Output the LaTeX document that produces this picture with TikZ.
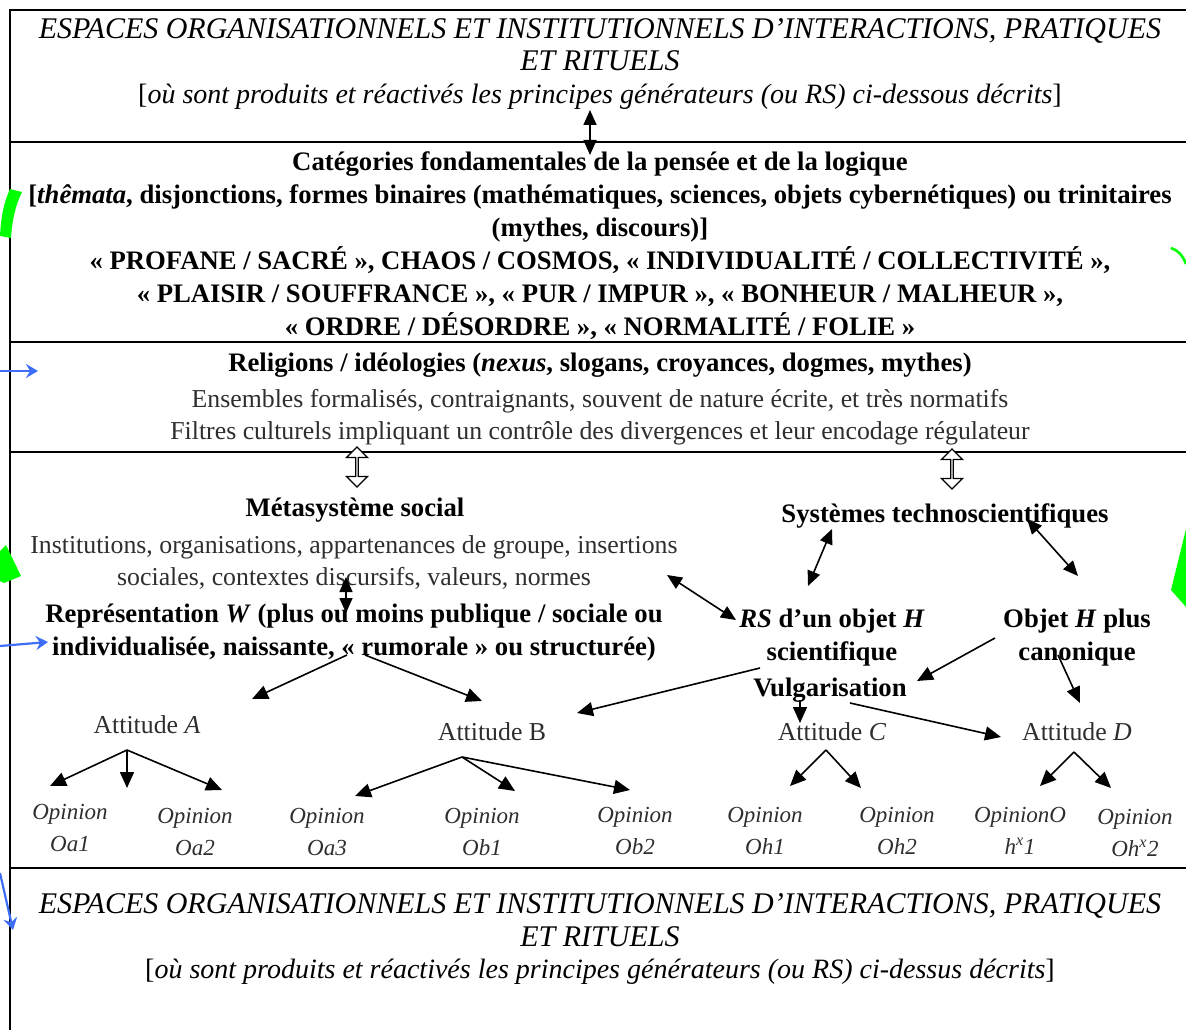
\documentclass[tikz,border=0pt]{standalone}
\usepackage{fontspec}
\setmainfont{Liberation Serif}
\usetikzlibrary{arrows.meta,shapes.arrows}
\definecolor{txtgray}{HTML}{2E2E2E}
\definecolor{blueA}{HTML}{3E6EF5}
\definecolor{greenA}{HTML}{00FF00}
\begin{document}
\begin{tikzpicture}[x=1pt,y=-1pt,
  frame/.style={line width=2.2pt},
  bfb/.style={font=\fontsize{26.7}{33}\selectfont\bfseries, align=center, inner sep=0pt},
  rmb/.style={font=\fontsize{25.8}{32}\selectfont, text=txtgray, align=center, inner sep=0pt},
  hdr/.style={font=\fontsize{28}{32.5}\selectfont, align=center, inner sep=0pt},
  opin/.style={font=\fontsize{23}{32.5}\selectfont\itshape, text=txtgray, align=center, inner sep=0pt},
  arr/.style={-{Triangle[length=16pt,width=14pt]}, line width=1.6pt},
  darr/.style={{Triangle[length=15pt,width=13pt]}-{Triangle[length=15pt,width=13pt]}, line width=1.6pt},
  hollow/.style={draw, double arrow, shape border rotate=90, minimum height=40pt, minimum width=21pt, double arrow head extend=5pt, line width=1.3pt, inner sep=0pt, fill=white},
  bluearr/.style={-{Stealth[length=12pt,width=14pt,inset=4pt]}, line width=2.2pt, draw=blueA}
]
\useasboundingbox (0,0) rectangle (1186,1030);

% frame
\draw[frame] (1186,10) -- (10,10) -- (10,1030);
\foreach \yy in {142,342,452,868} \draw[frame] (10,\yy) -- (1186,\yy);

% headers
\node[hdr] (espTop) at (600,64) {{\fontsize{30}{32.5}\selectfont\itshape ESPACES ORGANISATIONNELS ET INSTITUTIONNELS D’INTERACTIONS, PRATIQUES}\\
  {\fontsize{30}{32.5}\selectfont\itshape ET RITUELS}\\
  {[\textit{où sont produits et réactivés les principes générateurs (ou RS) ci-dessous décrits}]}};

\node[hdr] (espBot) at (600,939) {{\fontsize{30}{32.5}\selectfont\itshape ESPACES ORGANISATIONNELS ET INSTITUTIONNELS D’INTERACTIONS, PRATIQUES}\\
  {\fontsize{30}{32.5}\selectfont\itshape ET RITUELS}\\
  {[\textit{où sont produits et réactivés les principes générateurs (ou RS) ci-dessus décrits}]}};

% categories
\node[bfb] (cat) at (600,246) {Catégories fondamentales de la pensée et de la logique\\
  {[}\textit{thêmata}, disjonctions, formes binaires (mathématiques, sciences, objets cybernétiques) ou trinitaires\\
  (mythes, discours)]\\
  « PROFANE / SACRÉ », CHAOS / COSMOS, « INDIVIDUALITÉ / COLLECTIVITÉ »,\\
  « PLAISIR / SOUFFRANCE », « PUR / IMPUR », « BONHEUR / MALHEUR »,\\
  « ORDRE / DÉSORDRE », « NORMALITÉ / FOLIE »};

% religions
\node[bfb] (rel) at (600,365) {Religions / idéologies (\textit{nexus}, slogans, croyances, dogmes, mythes)};
\node[rmb] (ens) at (600,417) {Ensembles formalisés, contraignants, souvent de nature écrite, et très normatifs\\
  Filtres culturels impliquant un contrôle des divergences et leur encodage régulateur};

% hollow arrows
\node[hollow] (hol1) at (357,467) {};
\node[hollow] (hol2) at (952,469) {};

% metasysteme
\node[bfb] (meta) at (355,510) {Métasystème social};
\node[rmb] (inst) at (354,563) {Institutions, organisations, appartenances de groupe, insertions\\
  sociales, contextes discursifs, valeurs, normes};
\node[bfb] (repr) at (354,633) {Représentation \textit{W} (plus ou moins publique / sociale ou\\
  individualisée, naissante, « rumorale » ou structurée)};

\node[bfb] (sys) at (945,516) {Systèmes technoscientifiques};
\node[bfb] (rs) at (832,638) {\textit{RS} d’un objet \textit{H}\\ scientifique};
\node[bfb] (vulg) at (830,690) {Vulgarisation};
\node[bfb] (obj) at (1077,638) {Objet \textit{H} plus\\ canonique};

% attitudes
\node[rmb] (attA) at (147,725) {Attitude \textit{A}};
\node[rmb] (attB) at (492,732) {Attitude B};
\node[rmb] (attC) at (832,732) {Attitude \textit{C}};
\node[rmb] (attD) at (1077,732) {Attitude \textit{D}};

% opinions
\node[opin] (oa1) at (70,828) {Opinion\\ Oa1};
\node[opin] (oa2) at (195,832) {Opinion\\ Oa2};
\node[opin] (oa3) at (327,832) {Opinion\\ Oa3};
\node[opin] (ob1) at (482,832) {Opinion\\ Ob1};
\node[opin] (ob2) at (635,831) {Opinion\\ Ob2};
\node[opin] (oh1) at (765,831) {Opinion\\ Oh1};
\node[opin] (oh2) at (897,831) {Opinion\\ Oh2};
\node[opin] (ohx1) at (1020,831) {OpinionO\\ h\textsuperscript{x}1};
\node[opin] (ohx2) at (1135,833) {Opinion\\ Oh\textsuperscript{x}2};

% coordinates for connector ends
\coordinate (t1) at (590,110); \coordinate (t2) at (590,155);
\coordinate (m1) at (346,577); \coordinate (m2) at (346,613);
\coordinate (s1) at (832,529); \coordinate (s2) at (808,586);
\coordinate (s3) at (1027,519); \coordinate (s4) at (1078,576);
\coordinate (i1) at (667,575); \coordinate (i2) at (736,620);
\coordinate (o1) at (995,638); \coordinate (o2) at (917,681);
\coordinate (o3) at (1058,655); \coordinate (o4) at (1080,703);
\coordinate (r1) at (760,668); \coordinate (r2) at (577,713);
\coordinate (p1) at (347,655); \coordinate (p2) at (252,699);
\coordinate (p3) at (365,655); \coordinate (p4) at (482,701);
\coordinate (v1) at (800,700); \coordinate (v2) at (800,723);
\coordinate (v3) at (850,703); \coordinate (v4) at (1001,737);
\coordinate (a0) at (127,750); \coordinate (a1) at (50,786); \coordinate (a2) at (127,788); \coordinate (a3) at (222,790);
\coordinate (b0) at (462,757); \coordinate (b1) at (355,796); \coordinate (b2) at (515,791); \coordinate (b3) at (630,790);
\coordinate (c0) at (826,750); \coordinate (c1) at (790,786); \coordinate (c2) at (861,788);
\coordinate (d0) at (1074,752); \coordinate (d1) at (1040,786); \coordinate (d2) at (1111,788);

\draw[darr] (t1) -- (t2);
\draw[darr] (m1) -- (m2);
\draw[darr] (s1) -- (s2);
\draw[darr] (s3) -- (s4);
\draw[darr] (i1) -- (i2);
\draw[arr] (o1) -- (o2);
\draw[arr] (o3) -- (o4);
\draw[arr] (r1) -- (r2);
\draw[arr] (p1) -- (p2);
\draw[arr] (p3) -- (p4);
\draw[arr] (v1) -- (v2);
\draw[arr] (v3) -- (v4);
\foreach \e in {a1,a2,a3} \draw[arr] (a0) -- (\e);
\foreach \e in {b1,b2,b3} \draw[arr] (b0) -- (\e);
\foreach \e in {c1,c2} \draw[arr] (c0) -- (\e);
\foreach \e in {d1,d2} \draw[arr] (d0) -- (\e);

% green marks
\fill[greenA] (0,236) .. controls (1,216) and (4,202) .. (10,189) -- (22,192) .. controls (16,204) and (12,220) .. (11,238) -- cycle;
\fill[greenA] (0,551) -- (6,545) -- (21,576) -- (4,583) -- (0,581) -- cycle;
\draw[greenA, line width=2.6pt] (1171,248) .. controls (1178,250) and (1183,256) .. (1186,264);
\fill[greenA] (1186,529) -- (1171,590) -- (1186,607) -- cycle;

% blue arrows
\coordinate (bl1) at (0,371); \coordinate (bl2) at (38,371);
\coordinate (bl3) at (0,646); \coordinate (bl4) at (48,642);
\coordinate (bl5) at (0,873); \coordinate (bl6) at (13,930);
\draw[bluearr] (bl1) -- (bl2);
\draw[bluearr] (bl3) -- (bl4);
\draw[bluearr] (bl5) -- (bl6);
\end{tikzpicture}
\end{document}
